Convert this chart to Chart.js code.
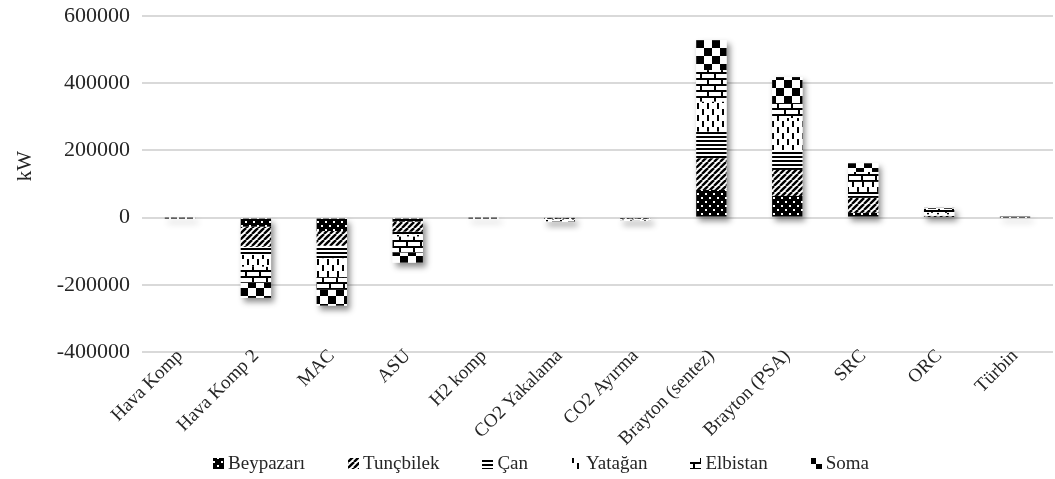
<!DOCTYPE html>
<html>
<head>
<meta charset="utf-8">
<script src="https://cdn.jsdelivr.net/npm/chart.js@4.4.1/dist/chart.umd.min.js"></script>
<style>
  html, body { margin: 0; padding: 0; background: #fff; }
  #wrap { width: 1055px; height: 479px; }
</style>
</head>
<body>
<div id="wrap"><canvas id="c" width="1055" height="479"></canvas></div>
<script>
// Power per component (kW) for each coal field
const categories = ['Hava Komp', 'Hava Komp 2', 'MAC', 'ASU', 'H2 komp', 'CO2 Yakalama',
  'CO2 Ayırma', 'Brayton (sentez)', 'Brayton (PSA)', 'SRC', 'ORC', 'Türbin'];
const beypazari = [-80, -27000, -40000, -12000, -70, -1000, -1500, 82300, 64500, 14000, 2000, 60];
const tuncbilek = [-100, -60000, -44000, -30000, -80, -2000, -1500, 94200, 77300, 44600, 3000, 60];
const canSeries = [-80, -24000, -38000, -9000, -60, -2000, -2000, 79000, 59400, 17800, 4000, 60];
const yatagan   = [-100, -35000, -55000, -5000, -80, -2000, -1500, 89200, 95100, 29700, 5000, 60];
const elbistan  = [-80, -48000, -38000, -48000, -70, -4000, -2500, 94200, 44600, 29700, 12000, 60];
const soma      = [-80, -45000, -47000, -30000, -60, -1500, -1000, 89200, 77300, 25900, 3000, 60];
const seriesNames = ['Beypazarı', 'Tunçbilek', 'Çan', 'Yatağan', 'Elbistan', 'Soma'];
const yTicks = { min: -400000, max: 600000, step: 200000 };
const axisTitle = 'kW';

const canvas = document.getElementById('c');
const ctx = canvas.getContext('2d');

// Monochrome fill patterns, one per series
function makePattern(w, h, draw) {
  const t = document.createElement('canvas');
  t.width = w; t.height = h;
  const g = t.getContext('2d');
  g.fillStyle = '#fff';
  g.fillRect(0, 0, w, h);
  g.fillStyle = '#000';
  g.strokeStyle = '#000';
  draw(g, w, h);
  return ctx.createPattern(t, 'repeat');
}

const patDots = makePattern(8, 8, (g) => {
  g.fillRect(0, 0, 8, 8);
  g.fillStyle = '#fff';
  g.fillRect(1, 1, 2, 2);
  g.fillRect(5, 5, 2, 2);
});
const patDiag = makePattern(6, 6, (g) => {
  g.lineWidth = 2.4;
  for (const k of [-6, 0, 6]) {
    g.beginPath();
    g.moveTo(k, 6);
    g.lineTo(k + 6, 0);
    g.stroke();
  }
});
const patLines = makePattern(4, 4, (g) => {
  g.fillRect(0, 0, 4, 2);
});
const patDashes = makePattern(10, 12, (g) => {
  g.fillRect(2, 1, 2, 6);
  g.fillRect(7, 7, 2, 5);
  g.fillRect(7, 0, 2, 1);
});
const patBricks = makePattern(14, 12, (g) => {
  g.fillRect(0, 0, 14, 2);
  g.fillRect(0, 6, 14, 2);
  g.fillRect(0, 2, 2, 4);
  g.fillRect(7, 8, 2, 4);
});
const patChecker = makePattern(16, 16, (g) => {
  g.fillRect(0, 0, 8, 8);
  g.fillRect(8, 8, 8, 8);
});

const seriesData = [beypazari, tuncbilek, canSeries, yatagan, elbistan, soma];
const seriesFills = [patDots, patDiag, patLines, patDashes, patBricks, patChecker];

const FONT = "'Liberation Serif', 'Times New Roman', serif";
const TEXT = '#262626';

// Soft drop shadow behind every stacked column
const barShadow = {
  id: 'barShadow',
  beforeDatasetsDraw(chart) {
    const c = chart.ctx;
    const metas = chart.data.datasets.map((d, i) => chart.getDatasetMeta(i));
    c.save();
    c.shadowColor = 'rgba(0,0,0,0.45)';
    c.shadowBlur = 6;
    c.shadowOffsetX = 3;
    c.shadowOffsetY = 4;
    c.fillStyle = '#fff';
    chart.data.labels.forEach((lab, j) => {
      let top = Infinity, bot = -Infinity, x = 0, w = 0;
      metas.forEach((m) => {
        const p = m.data[j].getProps(['x', 'y', 'base', 'width'], true);
        top = Math.min(top, p.y, p.base);
        bot = Math.max(bot, p.y, p.base);
        x = p.x; w = p.width;
      });
      c.fillRect(x - w / 2, top, w, Math.max(bot - top, 0.5));
    });
    c.restore();
  }
};

// Vertical axis title and a legend row under the category labels
const extras = {
  id: 'extras',
  afterDraw(chart) {
    const c = chart.ctx;
    c.save();
    c.fillStyle = TEXT;
    c.font = '21px ' + FONT;
    c.textAlign = 'center';
    c.textBaseline = 'middle';
    c.translate(25, 166);
    c.rotate(-Math.PI / 2);
    c.fillText(axisTitle, 0, 0);
    c.restore();

    c.save();
    c.font = '19px ' + FONT;
    c.textBaseline = 'middle';
    const box = 11, gapIcon = 4, gapItem = 43;
    const widths = seriesNames.map((n) => box + gapIcon + c.measureText(n).width);
    const total = widths.reduce((a, b) => a + b, 0) + gapItem * (seriesNames.length - 1);
    let x = 541 - total / 2;
    const y = 463;
    seriesNames.forEach((n, i) => {
      c.fillStyle = seriesFills[i];
      c.fillRect(Math.round(x), Math.round(y - box / 2), box, box);
      c.fillStyle = TEXT;
      c.fillText(n, x + box + gapIcon, y + 1);
      x += widths[i] + gapItem;
    });
    c.restore();
  }
};

// Let category labels sit flush under the plot without being cut off
function trimPadding(scale) {
  scale.paddingTop = 0;
  scale.paddingBottom = 0;
}
function freeLabels(scale) {
  scale._computeLabelArea = () => undefined;
}

new Chart(ctx, {
  type: 'bar',
  data: {
    labels: categories,
    datasets: seriesNames.map((name, i) => ({
      label: name,
      data: seriesData[i],
      backgroundColor: seriesFills[i],
      borderWidth: 0,
      barPercentage: 0.4,
      categoryPercentage: 1.0
    }))
  },
  options: {
    responsive: false,
    animation: false,
    layout: { padding: { top: 16, right: 2, left: 8, bottom: 0 } },
    scales: {
      x: {
        stacked: true,
        grid: { display: false, drawTicks: false },
        border: { display: false },
        ticks: {
          color: TEXT,
          font: { family: FONT, size: 19 },
          minRotation: 45, maxRotation: 45,
          autoSkip: false,
          padding: -7
        },
        afterFit(scale) { scale.height = 127; trimPadding(scale); freeLabels(scale); }
      },
      y: {
        stacked: true,
        min: yTicks.min, max: yTicks.max,
        grid: { color: '#d9d9d9', lineWidth: 2, drawTicks: false },
        border: { display: false },
        ticks: {
          stepSize: yTicks.step,
          color: TEXT,
          font: { family: FONT, size: 22 },
          padding: 12,
          callback: (v) => String(v)
        },
        afterFit(scale) { scale.width = 134; trimPadding(scale); }
      }
    },
    plugins: {
      legend: { display: false },
      tooltip: { enabled: false }
    }
  },
  plugins: [barShadow, extras]
});
</script>
</body>
</html>
